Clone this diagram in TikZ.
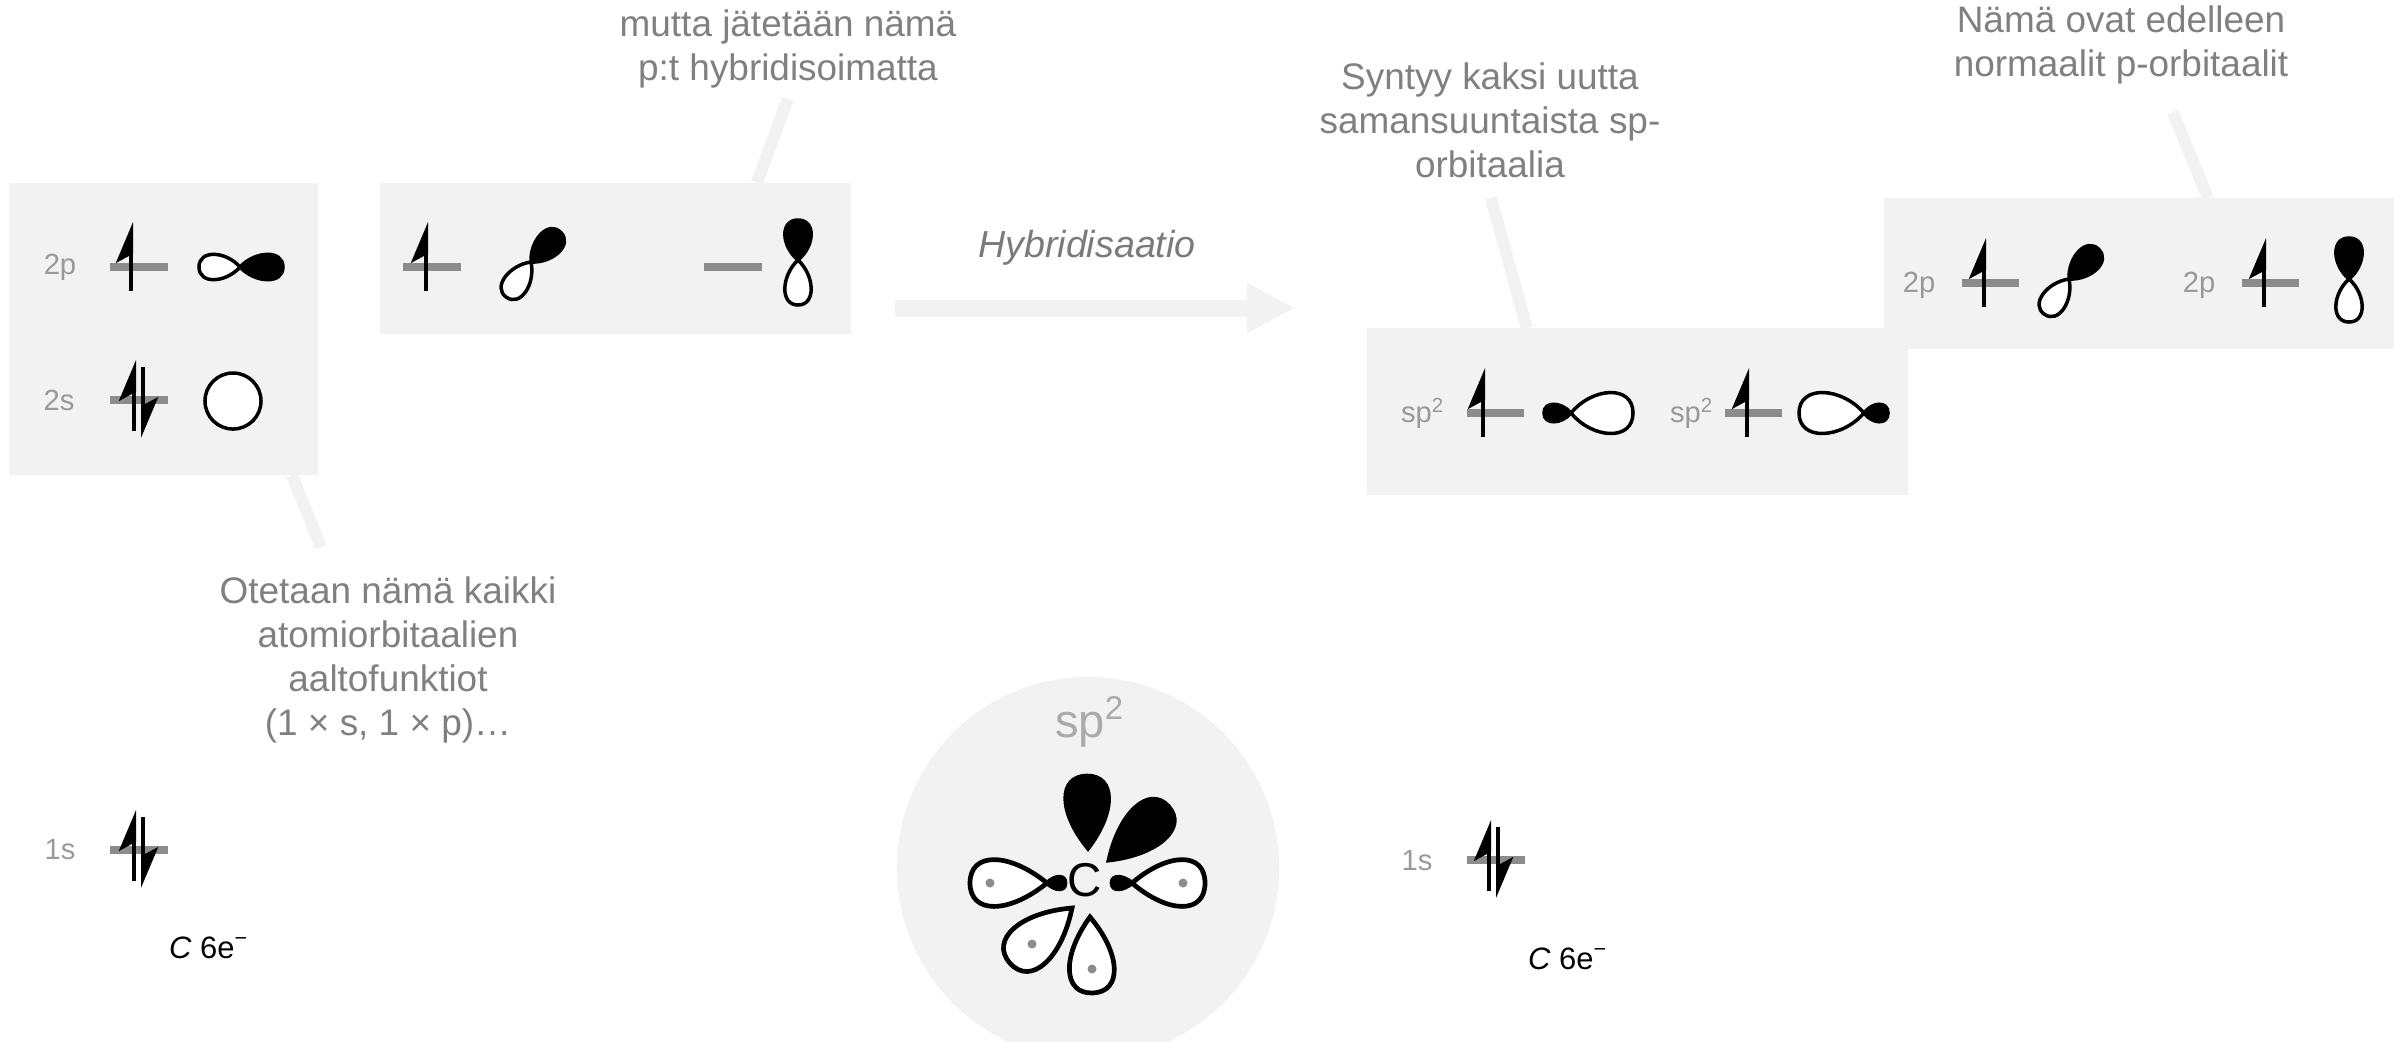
\documentclass[tikz,border=0pt]{standalone}
\usepackage{fontspec}
\setmainfont{Liberation Sans}
\usepackage{tikz}
\usetikzlibrary{arrows.meta}

\definecolor{panelgray}{RGB}{242,242,242}
\definecolor{notegray}{RGB}{128,128,128}
\definecolor{labelgray}{RGB}{153,153,153}
\definecolor{levelgray}{RGB}{140,140,140}
\definecolor{hybgray}{RGB}{170,170,170}

% one orbital lobe: style, apex, direction, length, half width
\newcommand{\lobe}[5]{%
  \path[#1,shift={(#2)},rotate=#3]
    (0,0) .. controls (0.35*#4,1.25*#5) and (#4,1.35*#5) .. (#4,0)
          .. controls (#4,-1.35*#5) and (0.35*#4,-1.25*#5) .. (0,0) -- cycle;}
% slimmer teardrop for the hybridised atom
\newcommand{\tear}[5]{%
  \path[#1,shift={(#2)},rotate=#3]
    (0,0) .. controls (0.5*#4,1.3*#5) and (#4,1.3*#5) .. (#4,0)
          .. controls (#4,-1.3*#5) and (0.5*#4,-1.3*#5) .. (0,0) -- cycle;}
% single electron on a level (x, level y)
\newcommand{\eup}[2]{\draw[spin] (#1,#2+24) -- (#1,#2-45);}
% electron pair on a level (bar centre x, level y)
\newcommand{\epair}[2]{%
  \draw[spin] (#1-5,#2+31) -- (#1-5,#2-40);
  \draw[spin] (#1+4,#2-33) -- (#1+4,#2+38);}

\begin{document}
\begin{tikzpicture}[x=0.01cm,y=-0.01cm,
  panel/.style={fill=panelgray,draw=none,inner sep=0pt,outer sep=0pt},
  note/.style={font=\fontsize{10.5}{12.5}\selectfont,text=notegray,align=center},
  lbl/.style={font=\fontsize{8.3}{10}\selectfont,text=labelgray},
  level/.style={draw=levelgray,line width=0.08cm},
  spin/.style={line width=0.04cm,-{Stealth[harpoon,length=0.36cm,width=0.3cm,inset=0.08cm]}},
  leader/.style={draw=panelgray,line width=0.12cm},
  bigarrow/.style={draw=panelgray,line width=0.17cm,-{Triangle[length=0.48cm,width=0.47cm]}},
  lobeopen/.style={draw=black,fill=white,line width=0.035cm},
  lobefill/.style={draw=black,fill=black,line width=0.035cm},
  hybopen/.style={draw=black,fill=white,line width=0.047cm},
  hybfill/.style={draw=black,fill=black,line width=0.047cm}
]
\useasboundingbox (0,0) rectangle (2394,1041);
\clip (0,0) rectangle (2394,1041);

% panels
\node[panel,minimum width=3.09cm,minimum height=2.92cm] (box1) at (163.5,329) {};
\node[panel,minimum width=4.71cm,minimum height=1.51cm] (box2) at (615.5,258.5) {};
\node[panel,minimum width=5.41cm,minimum height=1.67cm] (box3) at (1637.5,411.5) {};
\node[panel,minimum width=5.10cm,minimum height=1.51cm] (box4) at (2139,273.5) {};

% leaders to the notes
\draw[leader] (box1.south west) ++(283,0) -- ++(29,72);
\draw[leader] (box2.north west) ++(377,0) -- ++(31,-84);
\draw[leader] (box3.north west) ++(160,0) -- ++(-36,-130);
\draw[leader] (box4.north west) ++(324,0) -- ++(-35,-86);

% notes
\node[note] (nmutta) at (788,49) {mutta jätetään nämä\\p:t hybridisoimatta};
\node[note] (nsyntyy) at (1490,120) {Syntyy kaksi uutta\\samansuuntaista sp-\\orbitaalia};
\node[note] (nnama) at (2121,45) {Nämä ovat edelleen\\normaalit p-orbitaalit};
\node[note] (notetaan) at (388,660) {Otetaan nämä kaikki\\atomiorbitaalien\\aaltofunktiot\\(1 × s, 1 × p)…};

% hybridisation arrow
\coordinate (arrs) at (895,308);
\coordinate (arre) at (1295,308);
\draw[bigarrow] (arrs) -- (arre);
\node[note,font=\fontsize{10.7}{12.5}\selectfont\itshape,text=notegray!95!black] (nhyb) at (1087,248) {Hybridisaatio};

% ground state, 2p and 2s
\node[lbl] (l2p) at (60,267) {2p};
\draw[level] (110,267) -- (168,267);
\eup{131}{267}
\lobe{lobeopen}{240,267}{180}{41}{13}
\lobe{lobefill}{240,267}{0}{43}{13}
\node[lbl] (l2s) at (59,400) {2s};
\draw[level] (110,400) -- (168,400);
\epair{139}{400}
\draw[lobeopen] (233,401) circle[radius=0.28cm];

% the other two 2p
\draw[level] (403,267) -- (461,267);
\eup{426}{267}
\lobe{lobefill}{531,262}{45}{42}{13}
\lobe{lobeopen}{531,262}{235}{43}{13}
\draw[level] (704,267) -- (762,267);
\lobe{lobefill}{798,260}{90}{40}{13.5}
\lobe{lobeopen}{798,260}{270}{45}{13.5}

% sp2 hybrids
\node[lbl] (lsp1) at (1423,413) {sp\textsuperscript{2}};
\draw[level] (1467,413) -- (1524,413);
\eup{1483}{413}
\lobe{lobefill}{1571,413}{180}{27}{9}
\lobe{lobeopen}{1571,413}{0}{62}{21}
\node[lbl] (lsp2) at (1692,413) {sp\textsuperscript{2}};
\draw[level] (1725,413) -- (1782,413);
\eup{1747}{413}
\lobe{lobeopen}{1864,413}{180}{65}{21}
\lobe{lobefill}{1864,413}{0}{24}{9}

% remaining p orbitals
\node[lbl] (l2pa) at (1919,285) {2p};
\draw[level] (1962,283) -- (2019,283);
\eup{1984}{283}
\lobe{lobefill}{2069,279}{45}{42}{13}
\lobe{lobeopen}{2069,279}{235}{43}{13}
\node[lbl] (l2pb) at (2199,285) {2p};
\draw[level] (2242,283) -- (2299,283);
\eup{2264}{283}
\lobe{lobefill}{2349,279}{90}{41}{13.5}
\lobe{lobeopen}{2349,279}{270}{43}{13.5}

% 1s levels
\node[lbl] (l1s) at (60,850) {1s};
\draw[level] (110,850) -- (168,850);
\epair{139}{850}
\node[lbl] (r1s) at (1417,861) {1s};
\draw[level] (1467,860) -- (1525,860);
\epair{1494}{860}

\node[font=\fontsize{8.8}{10}\selectfont] (lc) at (209,948) {\textit{C} 6e\textsuperscript{−}};
\node[font=\fontsize{8.8}{10}\selectfont] (rc) at (1568,959) {\textit{C} 6e\textsuperscript{−}};

% hybridised carbon
\node[circle,fill=panelgray,minimum size=3.82cm,inner sep=0pt] (atom) at (1088,868) {};
\node[font=\fontsize{13.4}{16}\selectfont,text=hybgray] (hsp) at (1090,722) {sp\textsuperscript{2}};
\tear{hybfill}{1088,848}{91}{72}{22}
\tear{hybfill}{1109,860}{42}{80}{22}
\tear{hybopen}{1047,883}{180}{77}{24}
\tear{hybfill}{1047,883}{0}{18}{6}
\tear{hybopen}{1132,883}{0}{73}{24}
\tear{hybfill}{1132,883}{180}{20}{6}
\tear{hybopen}{1072,908}{221.6}{83}{24}
\tear{hybopen}{1090,917}{272}{76}{23}
\fill[levelgray] (990,883) circle[radius=0.045cm];
\fill[levelgray] (1183,883) circle[radius=0.045cm];
\fill[levelgray] (1032,944) circle[radius=0.045cm];
\fill[levelgray] (1092,969) circle[radius=0.045cm];
\node[font=\fontsize{13.5}{15}\selectfont] (catom) at (1085,880) {C};

\end{tikzpicture}
\end{document}
